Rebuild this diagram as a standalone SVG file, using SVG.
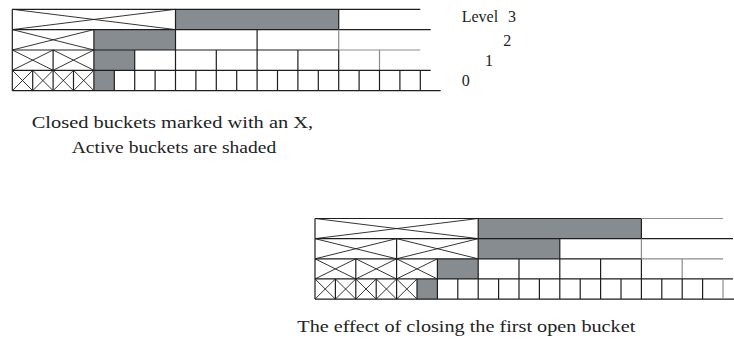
<svg xmlns="http://www.w3.org/2000/svg" width="734" height="343" viewBox="0 0 734 343">
<style>
.bg{fill:#ffffff}
.sh{fill:#878c91;stroke:none}
.ln{fill:none;stroke:#1e1e1e;stroke-width:1.2}
.gl{fill:none;stroke:#8c8c8c;stroke-width:1.2}
.x{fill:none;stroke:#1e1e1e;stroke-width:0.9}
.t{font-family:"Liberation Serif","Times New Roman",serif;font-size:16px;fill:#222222}
.c{font-family:"Liberation Serif","Times New Roman",serif;font-size:16.5px;fill:#222222}
</style>
<rect class="bg" x="0" y="0" width="734" height="343"/>

<g id="diagram-before">
  <g id="before-shaded">
    <rect class="sh" x="175.5" y="9.3" width="163.2" height="20.3"/>
    <rect class="sh" x="93.9" y="29.6" width="81.6" height="20.4"/>
    <rect class="sh" x="93.9" y="50" width="40.8" height="20.3"/>
    <rect class="sh" x="93.9" y="70.3" width="20.4" height="20.4"/>
  </g>
  <g id="before-closed">
    <path class="x" d="M12.3 9.3L175.5 29.6M12.3 29.6L175.5 9.3"/>
    <path class="x" d="M12.3 29.6L93.9 50M12.3 50L93.9 29.6"/>
    <path class="x" d="M12.3 50L53.1 70.3M12.3 70.3L53.1 50M53.1 50L93.9 70.3M53.1 70.3L93.9 50"/>
    <path class="x" d="M12.3 70.3L32.7 90.7M12.3 90.7L32.7 70.3M32.7 70.3L53.1 90.7M32.7 90.7L53.1 70.3M53.1 70.3L73.5 90.7M53.1 90.7L73.5 70.3M73.5 70.3L93.9 90.7M73.5 90.7L93.9 70.3"/>
  </g>
  <g id="before-level3">
    <path class="ln" d="M12.3 9.3H420.3M12.3 9.3V29.6M175.5 9.3V29.6M338.7 9.3V29.6"/>
  </g>
  <g id="before-level2">
    <path class="ln" d="M12.3 29.6H430.7M12.3 29.6V50M93.9 29.6V50M175.5 29.6V50M257.1 29.6V50"/>
    <path class="gl" d="M338.7 29.6V50"/>
  </g>
  <g id="before-level1">
    <path class="ln" d="M12.3 50H338.7M12.3 50V70.3M53.1 50V70.3M93.9 50V70.3M134.7 50V70.3M175.5 50V70.3M216.3 50V70.3M257.1 50V70.3M297.9 50V70.3M338.7 50V70.3"/>
    <path class="gl" d="M338.7 50H420.3M379.5 50V70.3"/>
  </g>
  <g id="before-level0">
    <path class="ln" d="M12.3 70.3H430.7M12.3 90.7H440.7M12.3 70.3V90.7M32.7 70.3V90.7M53.1 70.3V90.7M73.5 70.3V90.7M93.9 70.3V90.7M114.3 70.3V90.7M134.7 70.3V90.7M155.1 70.3V90.7M175.5 70.3V90.7M195.9 70.3V90.7M216.3 70.3V90.7M236.7 70.3V90.7M257.1 70.3V90.7M277.5 70.3V90.7M297.9 70.3V90.7M318.3 70.3V90.7M338.7 70.3V90.7M359.1 70.3V90.7M379.5 70.3V90.7M399.9 70.3V90.7M420.3 70.3V90.7"/>
  </g>
  <g id="level-labels">
    <text class="t" x="461.7" y="21.7">Level <tspan x="508">3</tspan></text>
    <text class="t" x="503.3" y="45.7">2</text>
    <text class="t" x="485" y="65.7">1</text>
    <text class="t" x="461.7" y="85.7">0</text>
  </g>
  <g id="caption-before">
    <text class="c" x="31.7" y="128.3" textLength="281.5" lengthAdjust="spacingAndGlyphs">Closed buckets marked with an X,</text>
    <text class="c" x="71.7" y="153" textLength="204.5" lengthAdjust="spacingAndGlyphs">Active buckets are shaded</text>
  </g>
</g>

<g id="diagram-after">
  <g id="after-shaded">
    <rect class="sh" x="478.2" y="218.5" width="163.2" height="20.15"/>
    <rect class="sh" x="478.2" y="238.65" width="81.6" height="20.15"/>
    <rect class="sh" x="437.4" y="258.8" width="40.8" height="20.15"/>
    <rect class="sh" x="417" y="278.95" width="20.4" height="20.15"/>
  </g>
  <g id="after-closed">
    <path class="x" d="M315 218.5L478.2 238.65M315 238.65L478.2 218.5"/>
    <path class="x" d="M315 238.65L396.6 258.8M315 258.8L396.6 238.65M396.6 238.65L478.2 258.8M396.6 258.8L478.2 238.65"/>
    <path class="x" d="M315 258.8L355.8 278.95M315 278.95L355.8 258.8M355.8 258.8L396.6 278.95M355.8 278.95L396.6 258.8M396.6 258.8L437.4 278.95M396.6 278.95L437.4 258.8"/>
    <path class="x" d="M315 278.95L335.4 299.1M315 299.1L335.4 278.95M335.4 278.95L355.8 299.1M335.4 299.1L355.8 278.95M355.8 278.95L376.2 299.1M355.8 299.1L376.2 278.95M376.2 278.95L396.6 299.1M376.2 299.1L396.6 278.95M396.6 278.95L417 299.1M396.6 299.1L417 278.95"/>
  </g>
  <g id="after-level3">
    <path class="ln" d="M315 218.5H641.4M315 218.5V238.65M478.2 218.5V238.65M641.4 218.5V238.65"/>
    <path class="gl" d="M641.4 218.5H723"/>
  </g>
  <g id="after-level2">
    <path class="ln" d="M315 238.65H733M315 238.65V258.8M396.6 238.65V258.8M478.2 238.65V258.8M559.8 238.65V258.8"/>
    <path class="gl" d="M641.4 238.65V258.8"/>
  </g>
  <g id="after-level1">
    <path class="ln" d="M315 258.8H641.4M315 258.8V278.95M355.8 258.8V278.95M396.6 258.8V278.95M437.4 258.8V278.95M478.2 258.8V278.95M519 258.8V278.95M559.8 258.8V278.95M600.6 258.8V278.95M641.4 258.8V278.95"/>
    <path class="gl" d="M641.4 258.8H723M682.2 258.8V278.95"/>
  </g>
  <g id="after-level0">
    <path class="ln" d="M315 278.95H733M315 299.1H734M315 278.95V299.1M335.4 278.95V299.1M355.8 278.95V299.1M376.2 278.95V299.1M396.6 278.95V299.1M417 278.95V299.1M437.4 278.95V299.1M457.8 278.95V299.1M478.2 278.95V299.1M498.6 278.95V299.1M519 278.95V299.1M539.4 278.95V299.1M559.8 278.95V299.1M580.2 278.95V299.1M600.6 278.95V299.1M621 278.95V299.1M641.4 278.95V299.1M661.8 278.95V299.1M682.2 278.95V299.1M702.6 278.95V299.1"/>
    <path class="gl" d="M723 278.95V299.1"/>
  </g>
  <g id="caption-after">
    <text class="c" x="297.3" y="332.3" textLength="338" lengthAdjust="spacingAndGlyphs">The effect of closing the first open bucket</text>
  </g>
</g>
</svg>
